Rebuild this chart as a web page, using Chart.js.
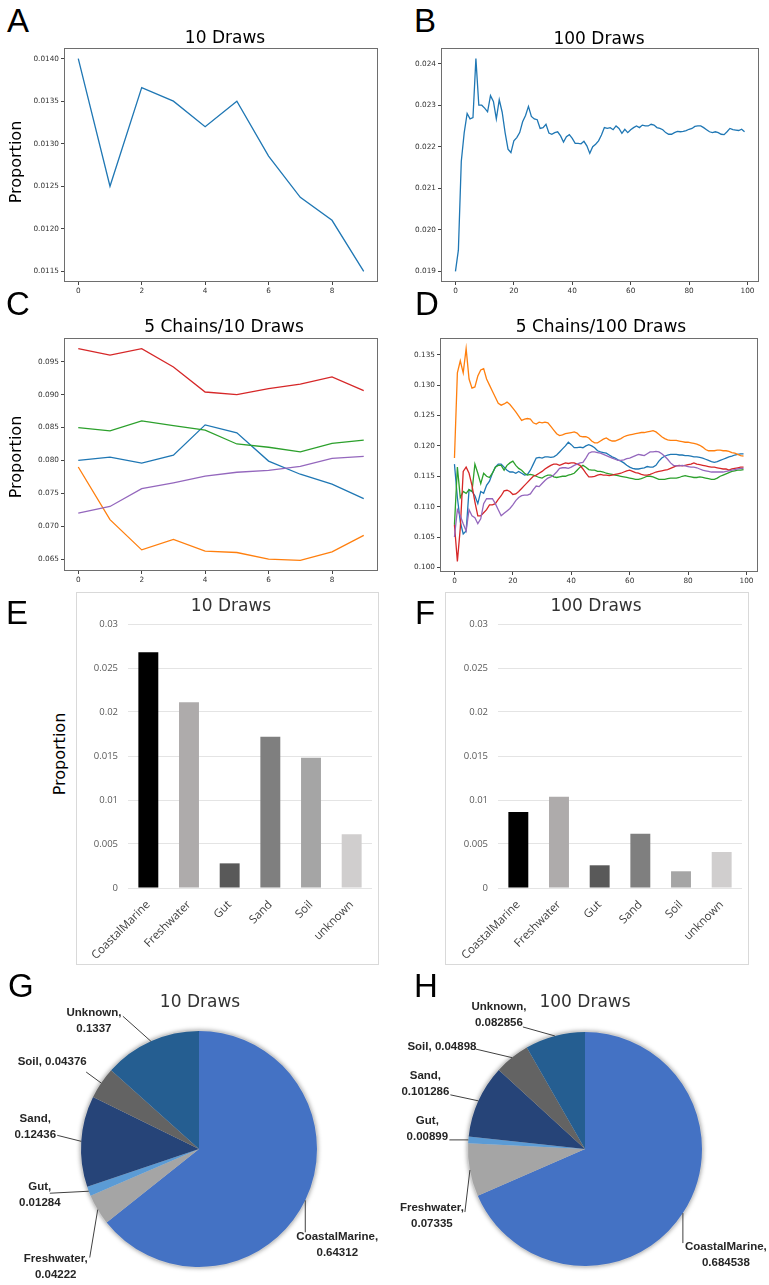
<!DOCTYPE html>
<html>
<head>
<meta charset="utf-8">
<script src="https://cdn.jsdelivr.net/npm/chart.js@4.4.0/dist/chart.umd.min.js"></script>
<style>
  body { margin: 0; background: #fff; }
  #page { position: relative; width: 769px; height: 1285px; overflow: hidden; }
  canvas { position: absolute; }
  .letter { position: absolute; font: 33px 'Liberation Sans', sans-serif; line-height: 33px; color: #000; }
  .title { position: absolute; transform: translateX(-50%); font: 17px 'DejaVu Sans', sans-serif; line-height: 17px; white-space: nowrap; color: #000; }
  .title.xl { color: #333; }
  .ylab { position: absolute; transform: translate(-50%, -50%) rotate(-90deg); font: 16px 'DejaVu Sans', sans-serif; line-height: 16px; white-space: nowrap; color: #000; }
  .box { position: absolute; border: 1px solid #d9d9d9; box-sizing: border-box; }
</style>
</head>
<body>
<div id="page">
  <canvas id="chartA" width="385" height="260" style="left:0px;top:40px"></canvas>
  <canvas id="chartB" width="384" height="260" style="left:385px;top:40px"></canvas>
  <canvas id="chartC" width="385" height="260" style="left:0px;top:330px"></canvas>
  <canvas id="chartD" width="384" height="260" style="left:385px;top:330px"></canvas>

  <div class="box" style="left:76px;top:592px;width:303px;height:373px"></div>
  <div class="box" style="left:445px;top:592px;width:304px;height:373px"></div>
  <canvas id="chartE" width="301" height="371" style="left:77px;top:593px"></canvas>
  <canvas id="chartF" width="302" height="371" style="left:446px;top:593px"></canvas>

  <canvas id="chartG" width="385" height="295" style="left:0px;top:990px"></canvas>
  <canvas id="chartH" width="384" height="295" style="left:385px;top:990px"></canvas>

  <div class="letter" style="left:7px;top:4px">A</div>
  <div class="letter" style="left:414px;top:4px">B</div>
  <div class="letter" style="left:6px;top:287px">C</div>
  <div class="letter" style="left:415px;top:287px">D</div>
  <div class="letter" style="left:6px;top:596px">E</div>
  <div class="letter" style="left:415px;top:596px">F</div>
  <div class="letter" style="left:8px;top:969px">G</div>
  <div class="letter" style="left:414px;top:969px">H</div>

  <div class="title" style="left:225px;top:29px">10 Draws</div>
  <div class="title" style="left:599px;top:30px">100 Draws</div>
  <div class="title" style="left:224px;top:318px">5 Chains/10 Draws</div>
  <div class="title" style="left:601px;top:318px">5 Chains/100 Draws</div>
  <div class="title xl" style="left:231px;top:597px">10 Draws</div>
  <div class="title xl" style="left:596px;top:597px">100 Draws</div>
  <div class="title xl" style="left:200px;top:993px">10 Draws</div>
  <div class="title xl" style="left:585px;top:993px">100 Draws</div>

  <div class="ylab" style="left:16px;top:162px">Proportion</div>
  <div class="ylab" style="left:16px;top:457px">Proportion</div>
  <div class="ylab" style="left:60px;top:754px">Proportion</div>
</div>

<script>
// --- panel A / B : single chain ---
const draws10 = [0.0140, 0.0125, 0.01366, 0.0135, 0.0132, 0.0135, 0.012855, 0.01237, 0.0121, 0.0115];

const draws100 = [
  0.01900, 0.01951, 0.02165, 0.02234, 0.02280, 0.02267, 0.02270, 0.02412, 0.02300, 0.02300,
  0.02293, 0.02284, 0.02323, 0.02309, 0.02267, 0.02313, 0.02283, 0.02234, 0.02194, 0.02186,
  0.02214, 0.02222, 0.02234, 0.02260, 0.02275, 0.02297, 0.02273, 0.02267, 0.02265, 0.02244,
  0.02246, 0.02254, 0.02233, 0.02230, 0.02234, 0.02236, 0.02226, 0.02211, 0.02224, 0.02229,
  0.02220, 0.02208, 0.02208, 0.02207, 0.02213, 0.02202, 0.02184, 0.02200, 0.02206, 0.02214,
  0.02228, 0.02246, 0.02244, 0.02246, 0.02241, 0.02250, 0.02244, 0.02232, 0.02242, 0.02234,
  0.02241, 0.02246, 0.02250, 0.02246, 0.02252, 0.02250, 0.02250, 0.02254, 0.02252, 0.02246,
  0.02244, 0.02241, 0.02234, 0.02230, 0.02230, 0.02234, 0.02237, 0.02236, 0.02237, 0.02239,
  0.02242, 0.02244, 0.02249, 0.02250, 0.02250, 0.02246, 0.02241, 0.02236, 0.02234, 0.02236,
  0.02234, 0.02230, 0.02229, 0.02236, 0.02244, 0.02241, 0.02240, 0.02239, 0.02242, 0.02236
];

// --- panel C : 5 chains / 10 draws ---
const chain10Blue   = [0.0800, 0.0805, 0.0796, 0.0808, 0.0854, 0.0842, 0.0799, 0.0779, 0.0764, 0.0742];
const chain10Orange = [0.0790, 0.0710, 0.0664, 0.0680, 0.0662, 0.0660, 0.0650, 0.0648, 0.0661, 0.0686];
const chain10Green  = [0.0850, 0.0845, 0.0860, 0.0853, 0.0846, 0.0825, 0.0820, 0.0813, 0.0826, 0.0831];
const chain10Red    = [0.0970, 0.0960, 0.0970, 0.0942, 0.0904, 0.0900, 0.0909, 0.0916, 0.0927, 0.0906];
const chain10Purple = [0.0720, 0.0730, 0.0757, 0.0766, 0.0776, 0.0782, 0.0785, 0.0791, 0.0803, 0.0806];

// --- panel D : 5 chains / 100 draws ---
const chain100Blue = [
  0.1170, 0.1115, 0.1075, 0.1055, 0.1060, 0.1128, 0.1125, 0.1118, 0.1105, 0.1125,
  0.1122, 0.1135, 0.1142, 0.1155, 0.1165, 0.1170, 0.1170, 0.1165, 0.1160, 0.1157,
  0.1157, 0.1155, 0.1158, 0.1155, 0.1152, 0.1153, 0.1160, 0.1170, 0.1180, 0.1181,
  0.1180, 0.1182, 0.1182, 0.1181, 0.1182, 0.1185, 0.1190, 0.1195, 0.1200, 0.1206,
  0.1202, 0.1197, 0.1197, 0.1198, 0.1197, 0.1200, 0.1202, 0.1200, 0.1197, 0.1192,
  0.1190, 0.1189, 0.1188, 0.1185, 0.1182, 0.1180, 0.1177, 0.1175, 0.1172, 0.1168,
  0.1165, 0.1163, 0.1162, 0.1162, 0.1163, 0.1164, 0.1166, 0.1165, 0.1165, 0.1168,
  0.1175, 0.1180, 0.1183, 0.1185, 0.1186, 0.1186, 0.1186, 0.1185, 0.1185, 0.1184,
  0.1184, 0.1183, 0.1182, 0.1182, 0.1181, 0.1180, 0.1178, 0.1176, 0.1174, 0.1173,
  0.1174, 0.1176, 0.1178, 0.1180, 0.1182, 0.1183, 0.1185, 0.1186, 0.1187, 0.1187
];
const chain100Orange = [
  0.1180, 0.1320, 0.1340, 0.1320, 0.1360, 0.1310, 0.1295, 0.1297, 0.1315, 0.1325,
  0.1327, 0.1310, 0.1300, 0.1290, 0.1280, 0.1270, 0.1267, 0.1269, 0.1272, 0.1268,
  0.1262, 0.1256, 0.1249, 0.1242, 0.1244, 0.1245, 0.1244, 0.1238, 0.1236, 0.1239,
  0.1238, 0.1239, 0.1238, 0.1232, 0.1226, 0.1220, 0.1217, 0.1218, 0.1220, 0.1221,
  0.1222, 0.1223, 0.1221, 0.1216, 0.1215, 0.1215, 0.1213, 0.1208, 0.1205, 0.1205,
  0.1208, 0.1211, 0.1213, 0.1210, 0.1208, 0.1208, 0.1210, 0.1212, 0.1215, 0.1217,
  0.1218, 0.1219, 0.1220, 0.1221, 0.1222, 0.1222, 0.1223, 0.1224, 0.1225, 0.1223,
  0.1219, 0.1215, 0.1212, 0.1210, 0.1209, 0.1209, 0.1209, 0.1208, 0.1207, 0.1206,
  0.1206, 0.1205, 0.1204, 0.1203, 0.1201, 0.1198, 0.1194, 0.1192, 0.1192, 0.1192,
  0.1193, 0.1193, 0.1192, 0.1192, 0.1191, 0.1189, 0.1188, 0.1186, 0.1184, 0.1183
];
const chain100Green = [
  0.1070, 0.1165, 0.1115, 0.1125, 0.1122, 0.1128, 0.1125, 0.1170, 0.1155, 0.1138,
  0.1155, 0.1150, 0.1148, 0.1155, 0.1165, 0.1168, 0.1168, 0.1160, 0.1168, 0.1172,
  0.1175, 0.1168, 0.1163, 0.1160, 0.1155, 0.1152, 0.1153, 0.1152, 0.1150, 0.1148,
  0.1147, 0.1150, 0.1152, 0.1152, 0.1149, 0.1148, 0.1149, 0.1150, 0.1150, 0.1152,
  0.1153, 0.1155, 0.1160, 0.1165, 0.1168, 0.1165, 0.1161, 0.1160, 0.1160, 0.1158,
  0.1158, 0.1157, 0.1155, 0.1154, 0.1153, 0.1152, 0.1151, 0.1150, 0.1149, 0.1148,
  0.1147, 0.1146, 0.1145, 0.1145, 0.1146, 0.1148, 0.1150, 0.1150, 0.1149, 0.1147,
  0.1145, 0.1145, 0.1145, 0.1146, 0.1147, 0.1147, 0.1147, 0.1148, 0.1150, 0.1151,
  0.1150, 0.1149, 0.1148, 0.1148, 0.1149, 0.1148, 0.1147, 0.1146, 0.1145, 0.1145,
  0.1147, 0.1150, 0.1152, 0.1154, 0.1156, 0.1158, 0.1159, 0.1160, 0.1160, 0.1161
];
const chain100Red = [
  0.1070, 0.1010, 0.1065, 0.1158, 0.1165, 0.1155, 0.1135, 0.1108, 0.1085, 0.1085,
  0.1090, 0.1095, 0.1103, 0.1103, 0.1105, 0.1112, 0.1118, 0.1126, 0.1127, 0.1125,
  0.1120, 0.1121, 0.1125, 0.1130, 0.1135, 0.1140, 0.1145, 0.1150, 0.1152, 0.1155,
  0.1158, 0.1162, 0.1165, 0.1168, 0.1170, 0.1170, 0.1168, 0.1170, 0.1172, 0.1171,
  0.1172, 0.1172, 0.1170, 0.1168, 0.1162, 0.1155, 0.1149, 0.1149, 0.1150, 0.1152,
  0.1153, 0.1152, 0.1152, 0.1151, 0.1152, 0.1153, 0.1154, 0.1155, 0.1157, 0.1159,
  0.1160, 0.1158, 0.1156, 0.1155, 0.1153, 0.1152, 0.1152, 0.1153, 0.1155, 0.1157,
  0.1158, 0.1159, 0.1160, 0.1161, 0.1163, 0.1165, 0.1167, 0.1168, 0.1167, 0.1168,
  0.1169, 0.1170, 0.1172, 0.1170, 0.1169, 0.1168, 0.1167, 0.1166, 0.1165, 0.1165,
  0.1164, 0.1163, 0.1162, 0.1162, 0.1160, 0.1162, 0.1163, 0.1164, 0.1165, 0.1165
];
const chain100Purple = [
  0.1050, 0.1095, 0.1085, 0.1072, 0.1060, 0.1095, 0.1085, 0.1082, 0.1072, 0.1080,
  0.1105, 0.1113, 0.1113, 0.1113, 0.1105, 0.1095, 0.1085, 0.1089, 0.1093, 0.1097,
  0.1103, 0.1110, 0.1115, 0.1118, 0.1119, 0.1119, 0.1121, 0.1128, 0.1134, 0.1133,
  0.1138, 0.1143, 0.1147, 0.1149, 0.1152, 0.1157, 0.1163, 0.1164, 0.1164, 0.1163,
  0.1165, 0.1168, 0.1170, 0.1172, 0.1173, 0.1180, 0.1188, 0.1190, 0.1190, 0.1189,
  0.1188, 0.1186, 0.1184, 0.1182, 0.1180, 0.1178, 0.1176, 0.1176, 0.1177, 0.1179,
  0.1180, 0.1182, 0.1184, 0.1186, 0.1185, 0.1184, 0.1187, 0.1190, 0.1190, 0.1191,
  0.1190, 0.1187, 0.1183, 0.1178, 0.1172, 0.1168, 0.1167, 0.1167, 0.1168, 0.1167,
  0.1166, 0.1165, 0.1165, 0.1164, 0.1162, 0.1160, 0.1159, 0.1158, 0.1157, 0.1157,
  0.1157, 0.1157, 0.1157, 0.1158, 0.1159, 0.1160, 0.1161, 0.1162, 0.1163, 0.1163
];

// --- panels E / F : bars ---
const barCategories = ['CoastalMarine', 'Freshwater', 'Gut', 'Sand', 'Soil', 'unknown'];
const bars10  = [0.0268, 0.0211, 0.0028, 0.0172, 0.0148, 0.0061];
const bars100 = [0.00864, 0.01038, 0.00258, 0.00617, 0.0019, 0.00409];

// --- panels G / H : pies ---
const pieCategories = ['CoastalMarine', 'Freshwater', 'Gut', 'Sand', 'Soil', 'Unknown'];
const pie10  = [0.64312, 0.04222, 0.01284, 0.12436, 0.04376, 0.1337];
const pie100 = [0.684538, 0.07335, 0.00899, 0.101286, 0.04898, 0.082856];

const tab10 = ['#1f77b4', '#ff7f0e', '#2ca02c', '#d62728', '#9467bd'];
const greys = ['#000000', '#aeabab', '#595959', '#7f7f7f', '#a5a5a5', '#d0cece'];
const pieColors = ['#4472c4', '#a5a5a5', '#5b9bd5', '#264478', '#636363', '#255e91'];

Chart.defaults.font.family = 'DejaVu Sans';
Chart.defaults.animation = false;

// matplotlib style box around the axes
const framePlugin = {
  id: 'frame',
  afterDatasetsDraw(chart) {
    const { ctx, chartArea: a } = chart;
    ctx.save();
    ctx.strokeStyle = '#6e6e6e';
    ctx.lineWidth = 1;
    ctx.strokeRect(Math.round(a.left) + 0.5, Math.round(a.top) + 0.5,
      Math.round(a.right - a.left) - 1, Math.round(a.bottom - a.top) - 1);
    ctx.restore();
  }
};

const mplTicks = { font: { family: 'DejaVu Sans', size: 7.3 }, color: '#333', padding: 2, includeBounds: false };
const mplGrid = { drawOnChartArea: false, tickLength: 3, color: '#444' };

const makeLine = (id, series, x, y, box) => {
  new Chart(document.getElementById(id), {
    type: 'line',
    data: {
      datasets: series.map((values, k) => ({
        data: values.map((v, i) => ({ x: i, y: v })),
        borderColor: tab10[k],
        borderWidth: 1.3,
        pointRadius: 0,
        fill: false,
        order: series.length - k,
      })),
    },
    options: {
      responsive: false,
      layout: { padding: { left: 0, top: box.top, right: box.right, bottom: 0 } },
      plugins: { legend: { display: false }, tooltip: { enabled: false } },
      scales: {
        x: {
          type: 'linear', min: x.min, max: x.max,
          ticks: { ...mplTicks, stepSize: x.step },
          grid: mplGrid, border: { display: false },
          afterFit: s => { s.height = box.xh; },
        },
        y: {
          min: y.min, max: y.max,
          ticks: { ...mplTicks, stepSize: y.step, callback: v => v.toFixed(y.dec) },
          grid: mplGrid, border: { display: false },
          afterFit: s => { s.width = box.yw; },
        },
      },
    },
    plugins: [framePlugin],
  });
};

makeLine('chartA', [draws10],
  { min: -0.45, max: 9.45, step: 2 },
  { min: 0.011375, max: 0.014125, step: 0.0005, dec: 4 },
  { top: 8, right: 7, xh: 18, yw: 64 });

makeLine('chartB', [draws100],
  { min: -4.95, max: 103.95, step: 20 },
  { min: 0.018744, max: 0.024376, step: 0.001, dec: 3 },
  { top: 8, right: 10, xh: 18, yw: 56 });

makeLine('chartC', [chain10Blue, chain10Orange, chain10Green, chain10Red, chain10Purple],
  { min: -0.45, max: 9.45, step: 2 },
  { min: 0.06319, max: 0.09861, step: 0.005, dec: 3 },
  { top: 8, right: 7, xh: 19, yw: 64 });

makeLine('chartD', [chain100Blue, chain100Orange, chain100Green, chain100Red, chain100Purple],
  { min: -4.95, max: 103.95, step: 20 },
  { min: 0.09925, max: 0.13775, step: 0.005, dec: 3 },
  { top: 8, right: 11, xh: 18, yw: 55 });

const makeBars = (id, values, yw) => {
  new Chart(document.getElementById(id), {
    type: 'bar',
    data: {
      labels: barCategories,
      datasets: [{ data: values, backgroundColor: greys, categoryPercentage: 1, barPercentage: 0.49 }],
    },
    options: {
      responsive: false,
      layout: { padding: { left: 0, top: 31, right: 6, bottom: 0 } },
      plugins: { legend: { display: false }, tooltip: { enabled: false } },
      scales: {
        x: {
          grid: { display: false, drawTicks: false },
          border: { display: false },
          ticks: {
            autoSkip: false, minRotation: 45, maxRotation: 45, padding: 10,
            color: '#404040', font: { family: 'Open Sans', size: 11.5 },
          },
          afterFit: s => { s.height = 76; },
        },
        y: {
          min: 0, max: 0.03,
          grid: { color: '#e4e4e4', drawTicks: false },
          border: { display: false },
          ticks: {
            stepSize: 0.005, padding: 10, color: '#595959',
            font: { family: 'Open Sans', size: 9.5 },
            callback: v => String(+v.toFixed(3)),
          },
          afterFit: s => { s.width = yw; },
        },
      },
    },
  });
};

makeBars('chartE', bars10, 51);
makeBars('chartF', bars100, 52);

// outside data labels with leader lines, placed relative to each slice's rim point
const pieLabelPlugin = {
  id: 'pieLabels',
  beforeDatasetsDraw(chart) {
    const arc = chart.getDatasetMeta(0).data[0];
    const { x, y, outerRadius } = arc.getProps(['x', 'y', 'outerRadius'], true);
    const ctx = chart.ctx;
    ctx.save();
    ctx.shadowColor = 'rgba(0,0,0,0.35)';
    ctx.shadowBlur = 4;
    ctx.fillStyle = '#cfcfcf';
    ctx.beginPath();
    ctx.arc(x, y, outerRadius + 1.2, 0, Math.PI * 2);
    ctx.fill();
    ctx.restore();
  },
  afterDatasetsDraw(chart, args, opts) {
    const ctx = chart.ctx;
    const labels = chart.data.labels;
    const values = chart.data.datasets[0].data;
    ctx.save();
    ctx.font = 'bold 11.5px "Liberation Sans"';
    ctx.fillStyle = '#262626';
    ctx.strokeStyle = '#404040';
    ctx.lineWidth = 1;
    ctx.textAlign = 'center';
    ctx.textBaseline = 'middle';
    chart.getDatasetMeta(0).data.forEach((arc, i) => {
      const p = arc.getProps(['x', 'y', 'startAngle', 'endAngle', 'outerRadius'], true);
      const mid = (p.startAngle + p.endAngle) / 2;
      const ex = p.x + Math.cos(mid) * p.outerRadius;
      const ey = p.y + Math.sin(mid) * p.outerRadius;
      const [lx, ly, tx, ty] = opts.offsets[i];
      ctx.beginPath();
      ctx.moveTo(ex, ey);
      ctx.lineTo(ex + lx, ey + ly);
      ctx.stroke();
      const lines = opts.oneLine[i]
        ? [labels[i] + ', ' + values[i]]
        : [labels[i] + ',', String(values[i])];
      lines.forEach((t, k) => {
        ctx.fillText(t, ex + tx, ey + ty + (k - (lines.length - 1) / 2) * 16);
      });
    });
    ctx.restore();
  }
};

const makePie = (id, values, pad, offsets) => {
  new Chart(document.getElementById(id), {
    type: 'pie',
    data: {
      labels: pieCategories,
      datasets: [{ data: values, backgroundColor: pieColors, borderWidth: 0 }],
    },
    options: {
      responsive: false,
      layout: { padding: pad },
      plugins: {
        legend: { display: false },
        tooltip: { enabled: false },
        pieLabels: { offsets: offsets, oneLine: [false, false, false, false, true, false] },
      },
    },
    plugins: [pieLabelPlugin],
  });
};

makePie('chartG', pie10, { left: 81, top: 41, right: 68, bottom: 18 }, [
  [0, 32, 32, 45],
  [-8, 48, -42, 57],
  [-39, 2, -49, 4],
  [-24, -6, -46, -14],
  [-15, -11, -49, -21],
  [-28, -25, -57, -20],
]);

makePie('chartH', pie100, { left: 83, top: 42, right: 67, bottom: 19 }, [
  [0, 30, 43, 42],
  [-5, 42, -38, 46],
  [-19, 0, -41, -11],
  [-28, -6, -53, -17],
  [-36, -8.5, -70, -10.5],
  [-32, -9, -56, -21],
]);
</script>
</body>
</html>
